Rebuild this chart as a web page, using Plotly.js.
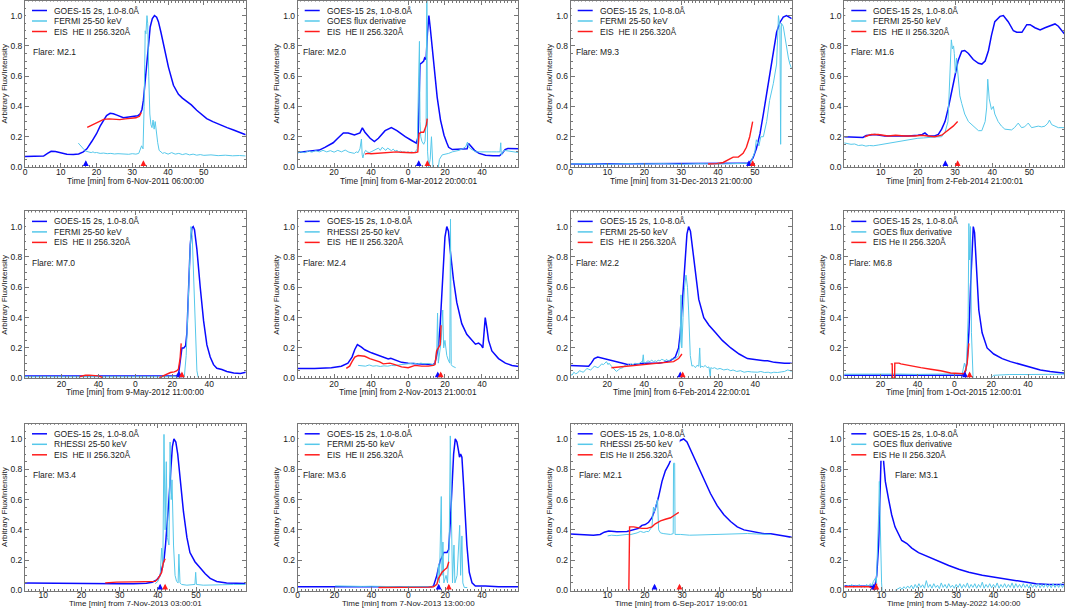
<!DOCTYPE html>
<html>
<head>
<meta charset="utf-8">
<script src="https://cdn.plot.ly/plotly-3.0.1.min.js"></script>
<style>body{margin:0;background:#fff}#chart{width:1065px;height:608px}</style>
</head>
<body>
<div id="chart"></div>
<script>
// ---- data: [minutes, normalised value] ----
const goes1 = [[0,0.07],[3,0.07],[5.2,0.072],[6.3,0.09],[7.3,0.104],[8.5,0.102],[10,0.092],[11.7,0.085],[13.5,0.083],[15,0.086],[16.3,0.1],[17.3,0.12],[18.7,0.17],[20,0.22],[21,0.27],[21.9,0.31],[22.8,0.34],[23.8,0.355],[24.7,0.352],[25.7,0.343],[27.5,0.326],[29,0.33],[30.3,0.335],[31.5,0.338],[32.2,0.352],[32.7,0.38],[33.1,0.44],[33.6,0.56],[34,0.66],[34.5,0.8],[35,0.925],[35.6,0.98],[36.2,1.0],[36.8,0.99],[37.3,0.96],[38,0.89],[38.7,0.81],[39.4,0.73],[40.1,0.66],[41.5,0.54],[42.9,0.48],[44,0.455],[45.2,0.435],[46.5,0.41],[48,0.375],[49.5,0.345],[50.8,0.32],[52.5,0.3],[54.6,0.277],[56.5,0.26],[58.3,0.244],[60,0.228],[61.7,0.213]];
const fermi1 = [[14.9,0.158],[15.5,0.14],[16,0.125],[16.5,0.115],[17,0.105],[17.5,0.1],[18,0.098],[18.5,0.095],[19,0.1],[19.5,0.094],[20,0.096],[21,0.09],[22,0.092],[23,0.088],[24,0.09],[25,0.086],[26,0.088],[27,0.085],[28,0.087],[29,0.084],[30,0.088],[31,0.085],[31.8,0.09],[32.2,0.12],[32.6,0.14],[33,0.12],[33.3,0.4],[33.6,0.9],[33.8,0.88],[34.1,1.0],[34.3,0.95],[34.6,0.6],[34.9,0.35],[35.2,0.28],[35.5,0.26],[35.8,0.31],[36.1,0.25],[36.4,0.3],[36.7,0.22],[37.1,0.16],[37.5,0.11],[38,0.1],[38.5,0.09],[39,0.095],[40,0.085],[41,0.095],[42,0.085],[43,0.09],[44,0.082],[45,0.088],[46,0.08],[47,0.085],[48,0.078],[49,0.082],[50,0.077],[52,0.08],[54,0.075],[56,0.078],[58,0.074],[60,0.076],[61.7,0.073]];
const eis1 = [[17.4,0.262],[18.5,0.275],[20,0.29],[21,0.305],[22,0.315],[23.5,0.318],[25,0.316],[26.5,0.313],[28,0.318],[29.5,0.322],[31,0.325],[32,0.335],[32.5,0.36]];

const goes2 = [[0,0.095],[5,0.1],[9.5,0.105],[12,0.112],[15,0.13],[19.5,0.16],[22,0.19],[25,0.225],[27.6,0.225],[31,0.212],[34,0.225],[35.3,0.258],[36.7,0.23],[39.5,0.19],[41.8,0.168],[44,0.19],[47.6,0.24],[51,0.26],[54,0.24],[58.5,0.2],[62,0.175],[64.5,0.158],[65.5,0.2],[66,0.45],[66.5,0.68],[67.6,0.69],[68.5,0.7],[69,0.72],[69.8,0.71],[70.5,0.88],[71.3,1.0],[72,0.925],[73,0.8],[74,0.66],[75,0.55],[75.8,0.46],[77.6,0.31],[79.5,0.21],[81,0.16],[82,0.13],[84,0.115],[89.5,0.115],[92,0.12],[92.8,0.155],[94,0.14],[96,0.11],[98.5,0.09],[102,0.078],[106,0.075],[109.5,0.074],[111,0.09],[112.5,0.115],[114,0.122],[120,0.12]];
const deriv2 = [[0,0.092],[2,0.1],[4,0.095],[6,0.105],[8,0.098],[10,0.108],[12,0.1],[14,0.11],[16,0.1],[18,0.108],[20,0.098],[22,0.11],[24,0.1],[26,0.112],[28,0.098],[30,0.095],[31,0.09],[32,0.1],[33,0.095],[34,0.12],[34.8,0.185],[35.2,0.08],[35.6,0.06],[36.2,0.09],[37,0.11],[38,0.1],[39,0.095],[40,0.1],[41,0.105],[42,0.11],[43,0.12],[44,0.125],[45,0.11],[46,0.13],[47,0.12],[48,0.11],[49,0.125],[50,0.115],[51,0.108],[52,0.118],[53,0.105],[54,0.11],[55,0.1],[56,0.105],[57,0.098],[58,0.1],[59,0.095],[60,0.1],[61,0.095],[62,0.1],[63,0.095],[64,0.1],[65,0.12],[65.6,0.5],[66.2,0.83],[66.5,0.3],[66.9,0.2],[67.5,0.17],[68.5,0.15],[69.2,0.17],[69.8,0.3],[70.2,1.15],[70.6,0.1],[71.2,0.0],[72,0.05],[72.7,0.2],[73.2,0.02],[73.8,-0.08],[75.5,-0.08],[76.2,0.0],[77,0.05],[78.5,0.08],[80.4,0.085],[82,0.09],[84,0.1],[86,0.105],[87.6,0.11],[89.5,0.12],[91.3,0.135],[92.2,0.165],[93,0.13],[94,0.12],[96.7,0.1],[99,0.1],[102,0.098],[105,0.1],[108,0.1],[109.8,0.1],[110.2,0.16],[110.5,0.08],[112,0.11],[114,0.105],[116,0.1],[118,0.098],[120,0.095]];
const eis2 = [[36.7,0.085],[38,0.09],[40,0.088],[42,0.09],[44,0.092],[46,0.09],[48,0.095],[50,0.097],[52,0.095],[54,0.1],[56,0.097],[58,0.095],[60,0.098],[62,0.094],[64,0.095],[65.3,0.1],[66,0.22],[67,0.23],[68.5,0.23],[69.3,0.26],[70,0.28],[70.4,0.32]];

const goes3 = [[0,0.02],[10,0.02],[20,0.02],[30,0.02],[40,0.02],[45,0.022],[47.7,0.024],[48.6,0.03],[49.5,0.06],[50.4,0.12],[51.4,0.22],[52.3,0.35],[53.2,0.49],[54,0.62],[55,0.77],[55.9,0.89],[56.8,0.955],[57.7,0.99],[58.6,1.0],[59.5,0.99],[60,0.98]];
const fermi3 = [[0,0.02],[5,0.022],[10,0.018],[15,0.022],[20,0.02],[25,0.022],[30,0.018],[35,0.022],[40,0.02],[45,0.022],[48.6,0.025],[49.2,0.05],[50,0.1],[50.4,0.18],[51.1,0.14],[51.6,0.2],[52.3,0.2],[53.2,0.3],[54,0.44],[55,0.55],[55.9,0.68],[56.4,1.0],[56.8,0.92],[57,0.15],[57.2,0.95],[57.7,0.93],[58.2,0.85],[58.6,0.8],[59.1,0.72],[59.5,0.68],[60,0.65]];
const eis3 = [[37.3,0.02],[39.6,0.022],[41.4,0.03],[42.8,0.05],[44.1,0.065],[45.5,0.065],[46.8,0.09],[47.7,0.13],[48.6,0.2],[49.4,0.3]];

const goes4 = [[0.1,0.2],[3,0.2],[5.2,0.195],[6.1,0.208],[8.4,0.215],[11.1,0.205],[13.8,0.205],[17.4,0.205],[20,0.21],[21.2,0.215],[21.9,0.225],[22.7,0.207],[24.5,0.205],[25.5,0.215],[26.4,0.25],[27.3,0.3],[28.1,0.38],[29,0.49],[29.9,0.6],[30.8,0.7],[31.8,0.765],[32.6,0.77],[33.6,0.75],[34.9,0.71],[36.3,0.685],[37.2,0.68],[38.1,0.7],[39,0.77],[39.8,0.87],[40.7,0.96],[42.1,0.995],[43,1.0],[44.3,0.96],[45.7,0.9],[46.6,0.89],[48,0.89],[49.3,0.94],[50.2,0.94],[51.5,0.92],[52.9,0.905],[54.2,0.92],[56,0.94],[56.9,0.945],[57.8,0.93],[59.4,0.88]];
const fermi4 = [[0,0.16],[1,0.155],[2,0.15],[3,0.152],[4,0.142],[5,0.145],[6,0.138],[7,0.142],[8,0.14],[9.3,0.145],[10.5,0.15],[12,0.16],[13,0.163],[14,0.168],[15.6,0.175],[17,0.178],[18.5,0.182],[20,0.19],[21.5,0.192],[23,0.196],[24.5,0.198],[26.4,0.2],[27.3,0.23],[28.1,0.3],[28.6,0.67],[29,0.84],[29.3,0.78],[29.6,0.8],[29.8,0.75],[30.1,0.62],[30.4,0.72],[30.8,0.58],[31.3,0.47],[31.8,0.42],[32.6,0.35],[33.6,0.3],[34.9,0.27],[36.3,0.24],[37.2,0.24],[38.1,0.3],[38.5,0.39],[38.8,0.58],[39.2,0.45],[39.8,0.38],[40.3,0.4],[40.7,0.35],[41.6,0.3],[42.5,0.27],[43.4,0.25],[45.2,0.245],[46,0.26],[46.6,0.28],[47,0.29],[47.9,0.26],[48.7,0.265],[49.3,0.28],[49.7,0.29],[50.6,0.26],[51.5,0.265],[52.4,0.27],[53.3,0.265],[54.2,0.27],[55,0.29],[55.4,0.31],[56,0.28],[57,0.27],[57.8,0.26],[59.4,0.26]];
const eis4 = [[5.7,0.2],[7.5,0.215],[9.3,0.215],[12,0.205],[14,0.21],[16.5,0.205],[19.2,0.205],[21,0.21],[22.7,0.205],[24.5,0.2],[26.4,0.21],[28.1,0.24],[29.5,0.27],[30.7,0.3]];

const goes5 = [[0,0.015],[20,0.015],[30,0.017],[35,0.02],[42,0.02],[50,0.017],[60,0.015],[70,0.015],[80,0.015],[82.5,0.017],[83.5,0.04],[84.5,0.12],[85.2,0.2],[86.2,0.2],[87.2,0.215],[87.9,0.3],[88.8,0.6],[89.7,0.88],[90.6,0.99],[91.3,1.0],[92,0.98],[93.3,0.85],[95.1,0.6],[96.9,0.38],[98.7,0.22],[100.5,0.14],[102.3,0.09],[104.1,0.066],[106.8,0.058],[109.5,0.045],[113.2,0.035],[116.8,0.032],[119.8,0.04]];
const fermi5 = [[0,0.01],[30,0.01],[60,0.01],[86.5,0.01],[87.5,0.15],[88.5,0.5],[89.5,0.92],[90.1,1.0],[90.8,0.93],[91.8,0.6],[92.6,0.3],[93.3,0.05],[94,0.005]];
const eis5 = [[29.5,0.01],[31,0.015],[33,0.02],[35,0.021],[37.5,0.02],[40,0.016],[41.5,0.01],[42.5,0.003],[43,null],[73,0.004],[75,0.015],[77,0.03],[79,0.038],[81,0.042],[82.3,0.048],[83.3,0.06],[83.8,0.1],[84.2,0.13],[84.8,0.23]];

const goes6 = [[0,0.065],[9.4,0.065],[18.5,0.07],[23.9,0.08],[27.5,0.1],[29.7,0.14],[31.2,0.19],[32.6,0.222],[34.8,0.205],[36.6,0.188],[40.2,0.168],[43.8,0.15],[47.5,0.135],[49.3,0.127],[50.7,0.132],[52.9,0.12],[56.5,0.105],[60.1,0.1],[65.6,0.095],[71,0.09],[73.7,0.09],[74.6,0.1],[75.5,0.15],[76.4,0.2],[77.4,0.35],[78.3,0.55],[79.2,0.8],[80,0.93],[81,1.0],[81.9,0.97],[82.8,0.85],[84.6,0.65],[86.4,0.5],[89.1,0.36],[91.8,0.29],[94.6,0.25],[96.5,0.225],[98.2,0.232],[99.5,0.22],[100.5,0.2],[101.3,0.33],[101.8,0.4],[102.7,0.33],[103.6,0.25],[105.4,0.18],[109,0.13],[112.7,0.1],[116.3,0.085],[120,0.078]];
const rhessi6 = [[33,0.085],[35,0.082],[37,0.08],[39,0.088],[41,0.08],[43,0.083],[45,0.078],[47,0.082],[49,0.08],[51,0.085],[53,0.083],[55,0.088],[57,0.09],[59,0.093],[61,0.098],[63,0.1],[65,0.095],[67,0.1],[69,0.095],[71,0.098],[73,0.092],[74.6,0.09],[75.6,0.2],[76,0.43],[76.4,0.1],[77.3,0.2],[78,0.25],[78.8,0.45],[79.3,0.2],[80,0.25],[81,0.15],[81.8,0.12],[82.6,0.1],[83,1.05],[83.4,0.09],[84,0.08],[85,0.075],[85.8,0.07]];
const eis6 = [[26.6,0.065],[28.4,0.08],[29.7,0.11],[31.2,0.14],[33,0.15],[34.8,0.145],[36.6,0.145],[39.3,0.13],[42,0.12],[44.7,0.108],[46.6,0.095],[48.4,0.1],[50.2,0.1],[52.9,0.09],[56.5,0.075],[60.1,0.07],[63.8,0.085],[67.4,0.08],[71,0.08],[73.7,0.085],[74.6,0.09],[75.5,0.18],[76.4,0.2],[77.4,0.22],[77.9,0.35]];

const goes7 = [[0,0.085],[4.8,0.083],[10,0.08],[11.4,0.1],[13,0.13],[14.9,0.14],[16.7,0.135],[20.5,0.12],[25,0.11],[30.5,0.092],[34,0.09],[39.5,0.1],[43.2,0.1],[47.7,0.1],[50.5,0.105],[54,0.115],[56.8,0.14],[58.6,0.2],[59.5,0.3],[60.4,0.47],[61.4,0.65],[62.2,0.82],[63.1,0.95],[64,1.0],[65,0.97],[66.2,0.85],[67.7,0.68],[69.5,0.52],[72.2,0.4],[75,0.35],[78.6,0.3],[82.2,0.25],[86.8,0.2],[91.3,0.16],[95.8,0.13],[100.4,0.12],[105,0.115],[106.7,0.115],[110.3,0.105],[115.8,0.1],[120,0.1]];
const fermi7 = [[0,0.03],[1,0.02],[2,0.04],[3,0.03],[4,0.035],[5,0.05],[6,0.045],[7,0.04],[8,0.05],[9,0.065],[10,0.06],[11,0.055],[12,0.065],[13,0.08],[14,0.075],[15,0.07],[16,0.08],[17,0.095],[18,0.09],[19,0.1],[19.6,0.11],[20.5,0.09],[21,0.1],[22.3,0.08],[23,0.07],[24,0.06],[25,0.045],[26,0.055],[27,0.065],[28.5,0.07],[29.5,0.085],[30.5,0.08],[31.5,0.09],[32,0.085],[33,0.095],[34,0.09],[35,0.1],[36,0.095],[37.7,0.1],[38.5,0.11],[39,0.105],[39.5,0.155],[39.9,0.1],[41,0.105],[42,0.115],[43.2,0.11],[44,0.12],[45,0.11],[46,0.115],[46.8,0.11],[47.5,0.12],[48.5,0.115],[49.5,0.125],[50.5,0.12],[51.5,0.115],[52,0.125],[53,0.115],[54,0.12],[55,0.13],[56,0.125],[56.8,0.13],[58,0.14],[58.6,0.15],[59.5,0.25],[59.9,0.55],[60.3,0.2],[61,0.4],[61.8,0.6],[62.6,0.68],[63.4,0.6],[64,0.45],[64.9,0.15],[65.8,0.08],[66.5,0.085],[67.7,0.07],[68.5,0.085],[69.5,0.08],[70,0.2],[70.4,0.07],[71,0.08],[72,0.075],[73,0.085],[74,0.07],[75,0.075],[75.7,0.01],[76,0.07],[77,0.065],[78,0.07],[79.5,0.06],[81,0.065],[83,0.055],[85,0.06],[86.8,0.05],[88,0.055],[90,0.045],[92,0.05],[94,0.04],[96,0.045],[98,0.042],[100,0.038],[101.3,0.04],[103,0.045],[105,0.038],[107,0.04],[108.5,0.035],[110,0.04],[112,0.038],[114,0.042],[115.8,0.045],[117.6,0.055],[119,0.05],[120,0.045]];
const eis7 = [[22.3,0.07],[26.9,0.075],[32.3,0.085],[37.7,0.09],[43.2,0.095],[48.6,0.1],[52.3,0.105],[55.9,0.11],[58.6,0.13],[60.4,0.16]];

const goes8 = [[0,0.02],[20,0.02],[40,0.021],[55,0.02],[64.3,0.02],[65.2,0.03],[66.1,0.05],[67,0.12],[67.9,0.3],[68.8,0.6],[69.7,0.9],[70.3,1.0],[71,0.96],[72,0.7],[73.3,0.45],[75.1,0.3],[77.8,0.2],[81.4,0.16],[86,0.13],[90.5,0.11],[95.9,0.09],[101.3,0.07],[106.7,0.055],[112,0.045],[118.9,0.035],[120,0.034]];
const deriv8 = [[0,0.027],[10,0.028],[20,0.027],[30,0.028],[40,0.026],[50,0.027],[60,0.026],[64.3,0.03],[65.5,0.1],[66.5,0.05],[67.5,0.4],[67.9,1.02],[68.3,0.78],[68.8,1.0],[69.3,0.3],[69.9,0.0],[70.5,-0.1],[79,-0.1],[79.6,0.0],[81.4,0.02],[85,0.022],[90,0.025],[100,0.025],[110,0.026],[120,0.027]];
const eis8 = [[25.5,0.095],[26.3,0.095],[26.4,0.0],[27.6,0.0],[27.7,0.1],[30,0.1],[31,0.095],[36.4,0.08],[41.8,0.07],[47.2,0.06],[52.6,0.05],[58,0.035],[63.4,0.03],[65.2,0.03],[66.1,0.05],[67,0.1],[67.9,0.23]];

const goes9 = [[5.2,0.05],[10,0.048],[16.1,0.046],[20,0.044],[24.9,0.043],[30,0.044],[33.6,0.045],[37,0.048],[38.5,0.055],[39.7,0.07],[40.6,0.1],[41.2,0.15],[41.6,0.2],[42,0.3],[42.5,0.45],[42.9,0.6],[43.4,0.8],[43.8,0.95],[44.2,1.0],[44.7,0.98],[45.2,0.9],[45.8,0.75],[46.7,0.52],[47.6,0.35],[48.4,0.25],[49.7,0.19],[51,0.15],[52.4,0.11],[53.7,0.08],[55.4,0.06],[58,0.05],[60.7,0.046],[63,0.046]];
const rhessi9 = [[39.3,0.045],[40,0.06],[40.6,0.1],[41,0.28],[41.3,0.15],[41.6,1.03],[41.9,0.4],[42.2,0.85],[42.5,0.35],[42.9,0.3],[43.2,0.98],[43.5,0.6],[43.7,0.73],[44.1,0.3],[44.5,0.1],[44.9,0.06],[45.3,0.05],[45.5,0.24],[45.8,0.05],[46.2,0.04],[47.6,0.035],[49.7,0.04],[49.9,0.12],[50.1,0.04],[51.9,0.035],[54.5,0.035],[57,0.038],[59.8,0.04],[63,0.04]];
const eis9 = [[26.2,0.05],[29.2,0.055],[33.6,0.057],[37.1,0.057],[39.3,0.06],[40.1,0.08],[41,0.12],[41.4,0.18],[41.9,0.21]];

const goes10 = [[0,0.025],[20,0.025],[40,0.025],[60,0.025],[72.8,0.025],[73.7,0.03],[74.6,0.06],[75.5,0.1],[76.4,0.15],[77.4,0.2],[78.3,0.22],[79.2,0.25],[81,0.25],[81.9,0.27],[82.8,0.45],[83.7,0.7],[84.6,0.9],[85.5,1.0],[86.4,0.98],[87.3,0.92],[87.8,0.88],[88.4,0.9],[89.1,0.88],[90,0.7],[90.9,0.5],[91.8,0.3],[93.1,0.12],[94.6,0.05],[96.4,0.03],[101.8,0.03],[109,0.025],[120,0.025]];
const fermi10 = [[20.3,0.03],[25,0.028],[30,0.03],[35,0.027],[40,0.028],[45,0.026],[50,0.027],[55,0.025],[60,0.026],[65,0.025],[70,0.026],[72.8,0.025],[74.6,0.03],[75.7,0.05],[76.4,0.17],[76.9,0.05],[77.9,0.62],[78.3,0.1],[78.8,0.32],[79.3,0.05],[80.5,0.1],[81.3,0.05],[82.2,0.3],[82.8,1.02],[83.4,0.5],[84,0.05],[84.8,0.3],[85.3,0.05],[86.5,0.1],[87.9,0.43],[88.4,0.1],[89.1,0.36],[89.6,0.05],[90.4,0.02],[92,0.02]];
const eis10 = [[43.8,0.02],[50,0.02],[54.7,0.02],[60,0.02],[63.8,0.02],[71,0.022],[73.7,0.025],[75.5,0.04],[76.4,0.08],[78.3,0.12],[80,0.14],[81,0.15],[82,0.19]];

const goes11 = [[0,0.373],[3.5,0.37],[6.2,0.365],[8,0.37],[9.1,0.385],[10.3,0.392],[12.5,0.388],[15.2,0.39],[16.1,0.395],[17.4,0.4],[18.3,0.41],[19.2,0.43],[20.1,0.435],[21,0.45],[21.9,0.48],[22.8,0.54],[23.7,0.62],[24.6,0.72],[25.5,0.79],[26.4,0.83],[27,0.86],[27.6,0.9],[28.2,0.94],[28.7,0.97],[29.5,0.99],[30.4,1.0],[31.3,0.98],[32.2,0.93],[34,0.83],[35.8,0.73],[37.6,0.64],[39.4,0.56],[41.2,0.5],[43,0.455],[44.8,0.42],[46.6,0.4],[48.4,0.39],[50.2,0.38],[52,0.375],[53.8,0.375],[55.6,0.37],[57.4,0.36],[59.6,0.35]];
const rhessi11 = [[10,0.36],[11,0.365],[12.5,0.362],[14,0.368],[15.2,0.37],[16,0.368],[17,0.372],[17.9,0.38],[18.8,0.39],[19.7,0.383],[20.5,0.39],[21,0.388],[21.9,0.42],[22.3,0.55],[22.6,0.52],[23,0.56],[23.4,0.6],[23.7,0.4],[24.2,0.38],[25.1,0.375],[26.9,0.37],[27.6,0.375],[27.7,0.84],[28,0.84],[28.1,0.37],[29.5,0.37],[32,0.365],[34,0.366],[36,0.368],[38.5,0.37],[41,0.372],[43,0.375],[45,0.377],[47.5,0.376],[50,0.373],[52,0.37],[53.8,0.37]];
const eis11 = [[15.7,0.0],[15.9,0.42],[17,0.42],[17.9,0.415],[19.2,0.41],[20.6,0.41],[21.9,0.42],[22.8,0.44],[24.2,0.46],[25.5,0.47],[26.9,0.48],[27.8,0.495],[28.7,0.51],[29.1,0.515]];

const goes12 = [[0,0.03],[4.7,0.03],[6.9,0.03],[7.8,0.028],[8.3,0.04],[8.7,0.1],[9.2,0.3],[9.5,0.6],[9.8,0.9],[10,1.0],[10.2,0.95],[10.5,0.85],[11,0.72],[11.9,0.6],[12.7,0.5],[13.6,0.42],[14.5,0.37],[15.4,0.33],[16.8,0.31],[18.1,0.28],[19.9,0.25],[22.6,0.22],[25.3,0.19],[28,0.165],[30.7,0.14],[33.4,0.12],[37,0.1],[40.6,0.085],[44.2,0.07],[47.8,0.055],[51.4,0.045],[54.9,0.04],[59,0.04]];
const deriv12 = [[0,0.03],[0.5,0.02],[1,0.035],[1.5,0.025],[2,0.04],[2.5,0.02],[3,0.035],[3.5,0.025],[4,0.04],[4.5,0.02],[5,0.03],[5.5,0.02],[6,0.04],[6.5,0.025],[7,0.045],[7.4,0.03],[7.8,0.06],[8.3,0.08],[8.6,0.05],[9,0.3],[9.2,0.5],[9.4,0.72],[9.6,0.45],[9.8,0.2],[10,0.05],[10.3,-0.05],[13,-0.05],[13.6,0.0],[14,0.005],[14.5,0.012],[15,0.02],[15.5,0.008],[16,0.025],[16.5,0.012],[17,0.03],[17.5,0.015],[18,0.035],[18.5,0.01],[19,0.04],[19.5,0.018],[20,0.045],[20.5,0.02],[21,0.038],[21.5,0.015],[22,0.065],[22.5,0.02],[23,0.04],[23.5,0.015],[24,0.045],[24.5,0.02],[25,0.035],[25.5,0.012],[26,0.05],[26.5,0.02],[27,0.04],[27.5,0.015],[28,0.045],[28.5,0.02],[29,0.035],[29.5,0.015],[30,0.04],[30.5,0.02],[31,0.045],[31.5,0.015],[32,0.04],[32.5,0.02],[33,0.05],[33.5,0.015],[34,0.04],[34.5,0.02],[35,0.045],[35.5,0.015],[36,0.04],[36.5,0.02],[37,0.055],[37.5,0.015],[38,0.04],[38.5,0.02],[39,0.045],[39.5,0.018],[40,0.04],[40.5,0.02],[41,0.05],[41.5,0.015],[42,0.04],[42.5,0.02],[43,0.045],[43.5,0.018],[44,0.04],[44.5,0.02],[45,0.05],[45.5,0.015],[46,0.045],[46.5,0.02],[47,0.04],[47.5,0.018],[48,0.045],[48.5,0.02],[49,0.04],[49.5,0.015],[50,0.045],[50.5,0.02],[51,0.04],[51.5,0.02],[52,0.045],[52.5,0.018],[53,0.04],[53.5,0.02],[54,0.045],[54.5,0.02],[55,0.04],[55.5,0.018],[56,0.045],[56.5,0.02],[57,0.04],[57.5,0.02],[58,0.045],[58.5,0.02],[59,0.04]];
const eis12 = [[0,0.025],[2,0.025],[4,0.025],[6.5,0.025],[7.6,0.015],[7.9,0.005],[8.3,0.01],[8.5,0.04],[8.7,0.045]];

const goesSeries = [goes1, goes2, goes3, goes4, goes5, goes6, goes7, goes8, goes9, goes10, goes11, goes12];
const hxrSeries = [fermi1, deriv2, fermi3, fermi4, fermi5, rhessi6, fermi7, deriv8, rhessi9, fermi10, rhessi11, deriv12];
const eisSeries = [eis1, eis2, eis3, eis4, eis5, eis6, eis7, eis8, eis9, eis10, eis11, eis12];

const startTimes = ['6-Nov-2011 06:00:00', '6-Mar-2012 20:00:01', '31-Dec-2013 21:00:00', '2-Feb-2014 21:00:01',
  '9-May-2012 11:00:00', '2-Nov-2013 21:00:01', '6-Feb-2014 22:00:01', '1-Oct-2015 12:00:01',
  '7-Nov-2013 03:00:01', '7-Nov-2013 13:00:00', '6-Sep-2017 19:00:01', '5-May-2022 14:00:00'];
const flareClass = ['M2.1', 'M2.0', 'M9.3', 'M1.6', 'M7.0', 'M2.4', 'M2.2', 'M6.8', 'M3.4', 'M3.6', 'M2.1', 'M3.1'];
const hxrNames = ['FERMI 25-50 keV', 'GOES flux derivative', 'FERMI 25-50 keV', 'FERMI 25-50 keV',
  'FERMI 25-50 keV', 'RHESSI 25-50 keV', 'FERMI 25-50 keV', 'GOES flux derivative',
  'RHESSI 25-50 keV', 'FERMI 25-50 keV', 'RHESSI 25-50 keV', 'GOES flux derivative'];
const eisNames = ['EIS\u00a0 HE II 256.320Å', 'EIS\u00a0 HE II 256.320Å', 'EIS\u00a0 HE II 256.320Å', 'EIS\u00a0 HE II 256.320Å',
  'EIS\u00a0 HE II 256.320Å', 'EIS\u00a0 HE II 256.320Å', 'EIS\u00a0 HE II 256.320Å', 'EIS He II 256.320Å',
  'EIS\u00a0 HE II 256.320Å', 'EIS\u00a0 HE II 256.320Å', 'EIS He II 256.320Å', 'EIS He II 256.320Å'];
const goesName = 'GOES-15 2s, 1.0-8.0Å';
const blueMark = [17.0, 65.8, 48.4, 27.4, 83.8, 76.1, 59.5, 65.8, 40.6, 76.5, 22.6, 7.9];
const redMark = [33.1, 70.5, 49.4, 30.7, 85.2, 77.7, 60.8, 68.3, 41.9, 82.0, 29.3, 8.6];
// two-hour windows are labelled in minutes past the hour
const twoHour = [false, true, false, false, true, true, true, true, false, true, false, false];
const xRanges = [[0, 61.7], [0.3, 119.7], [0, 60], [0.2, 59.4], [0.3, 119.7], [0.3, 119.7], [0.3, 119.7], [0.3, 119.7], [5.2, 63], [0, 119.7], [0.1, 59.4], [0, 59]];
const hourTicks = [0, 10, 20, 30, 40, 50];
const twoHourTicks = [0, 20, 40, 60, 80, 100];
const twoHourLabels = ['0', '20', '40', '0', '20', '40'];

// ---- page geometry (pixels) ----
const W = 1065, H = 608;
const colL = [25, 297.7, 570.7, 844.3], colR = [245.7, 518.3, 791.7, 1064.3];
const rowT = [0.5, 211.4, 423.8], rowB = [167, 378.3, 590.5];
const titleY = [180.5, 391.8, 603.6];
const labelShift = [-3, -3, -4];
const flareDx = [6, 3, 3, 5, 5, 3, 3, 3, 6, 3, 6, 49];

const BLUE = '#0a0aff', CYAN = '#56c8ea', RED = '#ff1c1c', AXIS = '#777777', TXT = '#1a1a1a';
const FONT = 'Liberation Sans, Arial, sans-serif';

const px = v => v / W;
const py = v => 1 - v / H;
const xs = d => d.map(p => p[0]);
const ys = d => d.map(p => p[1]);

const traces = [];
const layout = {
  width: W, height: H,
  margin: {l: 0, r: 0, t: 0, b: 0},
  paper_bgcolor: 'white', plot_bgcolor: 'white',
  font: {family: FONT, size: 8.5, color: TXT},
  showlegend: false,
  shapes: [], annotations: []
};

for (let i = 0; i < 12; i++) {
  const r = Math.floor(i / 4), c = i % 4;
  const id = i === 0 ? '' : String(i + 1);
  const L = colL[c], R = colR[c], T = rowT[r], B = rowB[r];
  const xa = 'x' + id, ya = 'y' + id;

  traces.push({x: xs(goesSeries[i]), y: ys(goesSeries[i]), xaxis: xa, yaxis: ya, mode: 'lines',
    name: goesName, line: {color: BLUE, width: 1.5}});
  traces.push({x: xs(hxrSeries[i]), y: ys(hxrSeries[i]), xaxis: xa, yaxis: ya, mode: 'lines',
    name: hxrNames[i], line: {color: CYAN, width: 1}});
  traces.push({x: xs(eisSeries[i]), y: ys(eisSeries[i]), xaxis: xa, yaxis: ya, mode: 'lines',
    name: eisNames[i], line: {color: RED, width: 1.4}});

  layout['xaxis' + id] = {
    domain: [px(L), px(R)], range: xRanges[i], anchor: ya,
    tickmode: 'array',
    tickvals: twoHour[i] ? twoHourTicks : hourTicks,
    ticktext: twoHour[i] ? twoHourLabels : hourTicks.map(String),
    ticks: 'inside', ticklen: 4, tickwidth: 1, tickcolor: AXIS,
    ticklabelstandoff: labelShift[r],
    minor: {tickmode: 'linear', tick0: 0, dtick: twoHour[i] ? 2 : 1, ticks: 'inside', ticklen: 2, tickcolor: AXIS},
    showline: true, linecolor: AXIS, linewidth: 1, mirror: 'ticks',
    showgrid: false, zeroline: false,
    tickfont: {size: 8.5, color: TXT}
  };
  layout['yaxis' + id] = {
    domain: [py(B), py(T)], range: [0, 1.1], anchor: xa,
    tickmode: 'linear', tick0: 0, dtick: 0.2, tickformat: '.1f',
    ticks: 'inside', ticklen: 4, tickwidth: 1, tickcolor: AXIS,
    minor: {dtick: 0.05, ticks: 'inside', ticklen: 2, tickcolor: AXIS},
    showline: true, linecolor: AXIS, linewidth: 1, mirror: 'ticks',
    showgrid: false, zeroline: false,
    tickfont: {size: 8.5, color: TXT},
    title: {text: 'Arbitrary Flux/Intensity', font: {size: 8, color: TXT}, standoff: 2}
  };

  // time-axis title, placed just under the tick labels
  layout.annotations.push({xref: 'paper', yref: 'paper', x: px((L + R) / 2), y: py(titleY[r]),
    xanchor: 'center', yanchor: 'middle', showarrow: false,
    text: 'Time [min] from ' + startTimes[i], font: {size: r === 2 ? 8 : 8.3, color: TXT}});

  // legend block with opaque white background (hides what lies under it, as in the original)
  layout.shapes.push({type: 'rect', xref: 'paper', yref: 'paper', layer: 'above',
    x0: px(L + 1), x1: px(L + 109), y0: py(T + 37), y1: py(T + 1),
    fillcolor: 'white', line: {width: 0}});
  const names = [goesName, hxrNames[i], eisNames[i]];
  const cols = [BLUE, CYAN, RED];
  const dy = [10, 20.5, 31];
  for (let k = 0; k < 3; k++) {
    layout.shapes.push({type: 'line', xref: 'paper', yref: 'paper', layer: 'above',
      x0: px(L + 7), x1: px(L + 22), y0: py(T + dy[k]), y1: py(T + dy[k]),
      line: {color: cols[k], width: 1.5}});
    layout.annotations.push({xref: 'paper', yref: 'paper', x: px(L + 27), y: py(T + dy[k]),
      xanchor: 'left', yanchor: 'middle', showarrow: false, text: names[k],
      font: {size: 8.5, color: TXT}});
  }
  layout.annotations.push({xref: 'paper', yref: 'paper', x: px(L + flareDx[i]), y: py(T + 51.5),
    xanchor: 'left', yanchor: 'middle', showarrow: false, text: 'Flare: ' + flareClass[i],
    font: {size: 8.5, color: TXT}});

  // start-time markers on the time axis
  [[blueMark[i], BLUE], [redMark[i], RED]].forEach(([t, col]) => {
    layout.annotations.push({xref: xa, yref: ya, axref: xa, ayref: ya,
      x: t, y: 0.045, ax: t, ay: 0, text: '', showarrow: true,
      arrowhead: 2, arrowsize: 0.9, arrowwidth: 1.3, arrowcolor: col, standoff: 0});
  });
}

Plotly.newPlot('chart', traces, layout, {staticPlot: true});
</script>
</body>
</html>
